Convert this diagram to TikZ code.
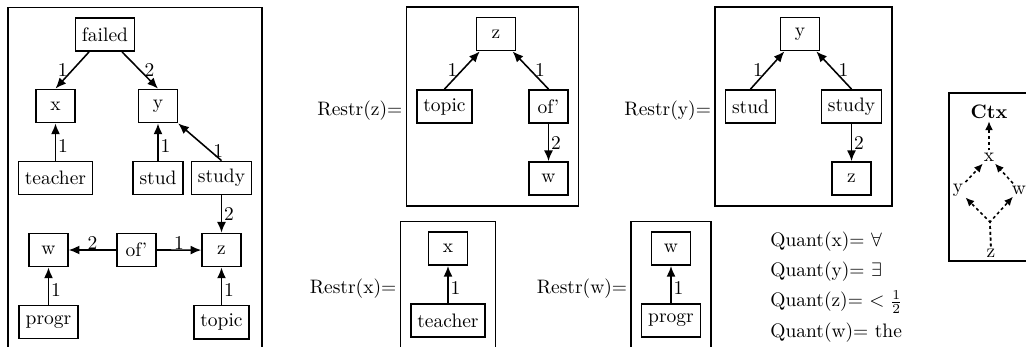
\documentclass[tikz,border=0pt]{standalone}
\usepackage{tikz}
\usetikzlibrary{shapes.geometric, arrows, arrows.meta}
\usetikzlibrary{positioning, fit}

\begin{document}
\begin{tikzpicture}[x=0.01804cm, y=0.01804cm, node distance=1.3cm]

\tikzstyle{word} = [rectangle, minimum width=0.7cm, minimum height=0.6cm, text centered, draw=black, thick]
\tikzstyle{framebox} = [rectangle, draw=black, thick, inner sep=5pt]
\tikzstyle{restr} = [inner sep=1.5pt, yshift=-2pt]
\tikzstyle{num} = [inner sep=1pt]
\tikzstyle{quant} = [anchor=base west, inner sep=0pt]
\tikzstyle{ctxnode} = [inner sep=1pt]
\tikzstyle{arrow} = [thick,->,>={Latex[length=5.5pt,width=4.6pt]}]
\tikzstyle{ctxarrow} = [thick,dash pattern=on 1.5pt off 1.5pt,->,>={Latex[length=4.5pt,width=4pt]}]

\useasboundingbox (0,0) rectangle (1026,-347);
\clip (0,0) rectangle (1026,-347);

% whole graph
\node (failed) [word] at (105,-34.5) {failed};
\node (x) [word] at (55.5,-106) {x};
\node (y) [word] at (158,-106) {y};
\node (teacher) [word, below of=x] {teacher};
\node (stud) [word, below of=y] {stud};
\node (study) [word] at (221.5,-178) {study};
\node (z) [word, below of=study] {z};
\node (ofp) [word] at (136.5,-250) {of'};
\node (w) [word] at (48.5,-250) {w};
\node (progr) [word, below of=w] {progr};
\node (topic) [word, below of=z] {topic};
\node (graph) [framebox, fit=(failed)(teacher)(study)(progr)(topic)] {};

\draw [arrow] (failed) -- (x.north) node [num, midway, left=1pt] {1};
\draw [arrow] (failed) -- (y.north) node [num, midway, right=1pt] {2};
\draw [arrow] (teacher) -- (x) node [num, pos=0.4, right] {1};
\draw [arrow] (stud) -- (y) node [num, pos=0.4, right] {1};
\draw [arrow] (study.north) -- (y.south east) node [num, pos=0.25, right] {1};
\draw [arrow] (study) -- (z) node [num, midway, right] {2};
\draw [arrow] (ofp) -- (w) node [num, midway, above=-1pt] {2};
\draw [arrow] (ofp) -- (z) node [num, midway, above=-1pt] {1};
\draw [arrow] (progr) -- (w) node [num, pos=0.4, right] {1};
\draw [arrow] (topic) -- (z) node [num, pos=0.4, right] {1};

% Restr(z)
\node (rzz) [word] at (496,-34) {z};
\node (rztopic) [word] at (444.5,-106.5) {topic};
\node (rzof) [word] at (548.5,-106.5) {of'};
\node (rzw) [word, below of=rzof] {w};
\node (rzbox) [framebox, fit=(rzz)(rztopic)(rzof)(rzw)] {};
\node (rzlabel) [restr, left=0pt of rzbox] {Restr(z)=};

\draw [arrow] (rztopic.north) -- (rzz) node [num, midway, left=1pt] {1};
\draw [arrow] (rzof.north) -- (rzz) node [num, midway, right=1pt] {1};
\draw [arrow] (rzof) -- (rzw) node [num, midway, right] {2};

% Restr(y)
\node (ryy) [word] at (800,-34) {y};
\node (rystud) [word] at (750.5,-106.5) {stud};
\node (rystudy) [word] at (851.5,-106.5) {study};
\node (ryz) [word, below of=rystudy] {z};
\node (rybox) [framebox, fit=(ryy)(rystud)(rystudy)(ryz)] {};
\node (rylabel) [restr, left=0pt of rybox] {Restr(y)=};

\draw [arrow] (rystud.north) -- (ryy) node [num, midway, left=1pt] {1};
\draw [arrow] (rystudy.north) -- (ryy) node [num, midway, right=1pt] {1};
\draw [arrow] (rystudy) -- (ryz) node [num, midway, right] {2};

% Restr(x) and Restr(w)
\node (rxx) [word] at (448,-248.5) {x};
\node (rxteacher) [word, below of=rxx] {teacher};
\node (rxbox) [framebox, fit=(rxx)(rxteacher)] {};
\node (rxlabel) [restr, left=0pt of rxbox] {Restr(x)=};
\draw [arrow] (rxteacher) -- (rxx) node [num, pos=0.4, right] {1};

\node (rww) [word] at (671,-248.5) {w};
\node (rwprogr) [word, below of=rww] {progr};
\node (rwbox) [framebox, fit=(rww)(rwprogr)] {};
\node (rwlabel) [restr, left=0pt of rwbox] {Restr(w)=};
\draw [arrow] (rwprogr) -- (rww) node [num, pos=0.4, right] {1};

% quantifiers
\node (qx) [quant] at (770,-247) {Quant(x)= $\forall$};
\node (qy) [quant] at (770,-277) {Quant(y)= $\exists$};
\node (qz) [quant] at (770,-307) {Quant(z)= $<\frac{1}{2}$};
\node (qw) [quant] at (770,-338) {Quant(w)= the};

% context order, box runs off the right edge
\node (ctx) [ctxnode] at (989,-112) {\textbf{Ctx}};
\node (cx) [ctxnode] at (989,-157) {x};
\node (cy) [ctxnode] at (958,-190) {y};
\node (cw) [ctxnode] at (1019,-190) {w};
\node (cz) [ctxnode] at (991,-253) {z};
\coordinate (cj) at (990,-222);
\draw [framebox] (1060,-93) -- (949,-93) -- (949,-261) -- (1060,-261);

\draw [ctxarrow] (cx) -- (ctx);
\draw [ctxarrow] (cy) -- (cx);
\draw [ctxarrow] (cw) -- (cx);
\draw [ctxarrow] (cz) -- (cj) -- (cy);
\draw [ctxarrow] (cz) -- (cj) -- (cw);
\end{tikzpicture}
\end{document}
